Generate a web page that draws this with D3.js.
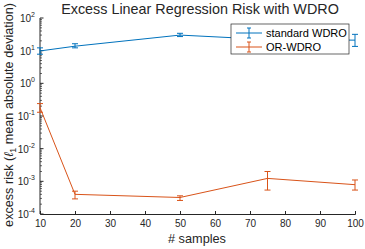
<!DOCTYPE html>
<html>
<head>
<meta charset="utf-8">
<script src="https://cdn.jsdelivr.net/npm/d3@7"></script>
<style>
body { margin: 0; background: #fff; }
text { font-family: "Liberation Sans", Arial, sans-serif; }
</style>
</head>
<body>
<script>
var samples = [10, 20, 50, 75, 100];
var stdMean = [9.8, 13.7, 30, 22, 21];
var stdLow = [7.8, 12.2, 27, 17, 13.5];
var stdHigh = [12.2, 16.3, 34, 27, 31.6];
var orMean = [0.18, 4.0e-4, 3.2e-4, 1.23e-3, 7.9e-4];
var orLow = [0.13, 2.9e-4, 2.6e-4, 5.4e-4, 5.4e-4];
var orHigh = [0.24, 5.0e-4, 3.6e-4, 2.0e-3, 1.1e-3];
var xTicks = [10, 20, 30, 40, 50, 60, 70, 80, 90, 100];
var yExps = [-4, -3, -2, -1, 0, 1, 2];
var seriesNames = ['standard WDRO', 'OR-WDRO'];
var colors = ['#0072BD', '#D95319'];

var width = 365, height = 249;
var margin = {left: 40, right: 10, top: 18, bottom: 35};

var svg = d3.select('body').append('svg').attr('width', width).attr('height', height);

var x = d3.scaleLinear().domain([10, 100]).range([margin.left, width - margin.right]);
var y = d3.scaleLog().domain([1e-4, 1e2]).range([height - margin.bottom, margin.top]);

var axisColor = '#262626';

// scale a text's font so that it spans the wanted width
function fit(sel, target) {
    var fs = +sel.attr('font-size');
    var w = sel.node().getComputedTextLength();
    sel.attr('font-size', fs * target / w);
}

// x axis
var xAxis = svg.append('g').attr('transform', 'translate(0,' + (height - margin.bottom) + ')')
    .call(d3.axisBottom(x).tickValues(xTicks).tickSize(-3).tickPadding(6));
xAxis.selectAll('text').attr('font-size', 10).attr('fill', axisColor);
xAxis.select('.domain').attr('stroke', axisColor);
xAxis.selectAll('.tick line').attr('stroke', axisColor);

// y axis with minor ticks
var minor = [];
for (var e = -4; e < 2; e++) {
    for (var m = 2; m < 10; m++) minor.push(m * Math.pow(10, e));
}
var yG = svg.append('g').attr('transform', 'translate(' + margin.left + ',0)');
yG.append('line').attr('x1', 0).attr('x2', 0).attr('y1', y(1e-4)).attr('y2', y(1e2)).attr('stroke', axisColor);
yG.selectAll('.minor').data(minor).enter().append('line')
    .attr('x1', 0).attr('x2', 2).attr('y1', function(d) { return y(d); }).attr('y2', function(d) { return y(d); })
    .attr('stroke', axisColor).attr('stroke-width', 0.7);
yG.selectAll('.major').data(yExps).enter().append('line')
    .attr('x1', 0).attr('x2', 3.5).attr('y1', function(d) { return y(Math.pow(10, d)); }).attr('y2', function(d) { return y(Math.pow(10, d)); })
    .attr('stroke', axisColor);
var lab = yG.selectAll('.lab').data(yExps).enter().append('text')
    .attr('x', -5).attr('y', function(d) { return y(Math.pow(10, d)) + 4; })
    .attr('text-anchor', 'end').attr('font-size', 10).attr('fill', axisColor);
lab.append('tspan').text('10');
lab.append('tspan').attr('dy', -5).attr('font-size', 7).text(function(d) { return d; });

// series
var series = [
    {mean: stdMean, low: stdLow, high: stdHigh},
    {mean: orMean, low: orLow, high: orHigh}
];
var line = d3.line().x(function(d) { return x(d[0]); }).y(function(d) { return y(d[1]); });

series.forEach(function(s, k) {
    var g = svg.append('g').attr('stroke', colors[k]).attr('fill', 'none').attr('stroke-width', 1);
    g.append('path').attr('d', line(samples.map(function(v, i) { return [v, s.mean[i]]; })));
    var eb = g.selectAll('.eb').data(samples).enter().append('g');
    eb.append('line').attr('x1', function(d) { return x(d); }).attr('x2', function(d) { return x(d); })
        .attr('y1', function(d, i) { return y(s.low[i]); }).attr('y2', function(d, i) { return y(s.high[i]); });
    eb.append('line').attr('x1', function(d) { return x(d) - 3; }).attr('x2', function(d) { return x(d) + 3; })
        .attr('y1', function(d, i) { return y(s.low[i]); }).attr('y2', function(d, i) { return y(s.low[i]); });
    eb.append('line').attr('x1', function(d) { return x(d) - 3; }).attr('x2', function(d) { return x(d) + 3; })
        .attr('y1', function(d, i) { return y(s.high[i]); }).attr('y2', function(d, i) { return y(s.high[i]); });
});

// legend
var lg = svg.append('g').attr('transform', 'translate(231,24)');
lg.append('rect').attr('width', 118).attr('height', 30).attr('fill', '#fff').attr('stroke', axisColor).attr('stroke-width', 0.7);
seriesNames.forEach(function(name, k) {
    var yy = 9 + k * 14;
    var g = lg.append('g').attr('stroke', colors[k]);
    g.append('line').attr('x1', 5).attr('x2', 31).attr('y1', yy).attr('y2', yy);
    g.append('line').attr('x1', 18).attr('x2', 18).attr('y1', yy - 5).attr('y2', yy + 5);
    g.append('line').attr('x1', 16).attr('x2', 20).attr('y1', yy - 5).attr('y2', yy - 5);
    g.append('line').attr('x1', 16).attr('x2', 20).attr('y1', yy + 5).attr('y2', yy + 5);
    lg.append('text').attr('x', 35).attr('y', yy + 4).attr('font-size', 10).attr('fill', '#000').text(name);
});
fit(lg.select('text'), 81);
lg.selectAll('text').attr('font-size', lg.select('text').attr('font-size'));

// title and labels
var title = svg.append('text').attr('x', 200).attr('y', 14).attr('text-anchor', 'middle').attr('font-size', 13)
    .attr('fill', axisColor).text('Excess Linear Regression Risk with WDRO');
fit(title, 278);
var xl = svg.append('text').attr('x', 197).attr('y', 243).attr('text-anchor', 'middle').attr('font-size', 11)
    .attr('fill', axisColor).text('# samples');
fit(xl, 58);
var yl = svg.append('text').attr('transform', 'translate(13,' + 115 + ') rotate(-90)')
    .attr('text-anchor', 'middle').attr('font-size', 11).attr('fill', axisColor);
yl.append('tspan').text('excess risk (');
yl.append('tspan').attr('font-style', 'italic').text('ℓ');
yl.append('tspan').attr('dy', 3).attr('font-size', '0.7em').text('1');
yl.append('tspan').attr('dy', -3).text(' mean absolute deviation)');
fit(yl, 224);
</script>
</body>
</html>
